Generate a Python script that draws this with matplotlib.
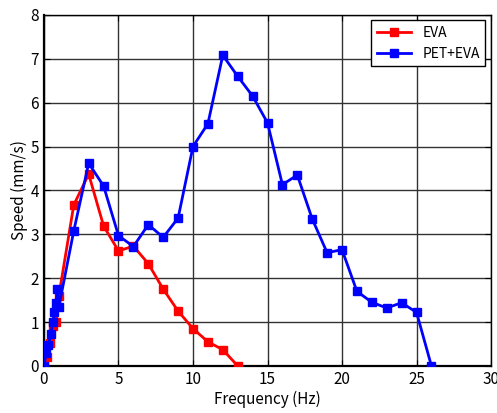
import numpy as np
import matplotlib
matplotlib.use("Agg")
import matplotlib.pyplot as plt

plt.rcParams['font.family'] = ['Noto Sans CJK JP', 'DejaVu Sans']

# EVA
eva_f = [0, 0.2, 0.4, 0.6, 0.8, 1.0, 2, 3, 4, 5, 6, 7, 8, 9, 10, 11, 12, 13]
eva_v = [0, 0.2, 0.52, 0.9, 1.0, 1.6, 3.67, 4.37, 3.19, 2.62, 2.73, 2.33, 1.75, 1.25, 0.85, 0.55, 0.37, 0]

# PET+EVA
pet_f = [0, 0.15, 0.3, 0.45, 0.6, 0.7, 0.8, 0.9, 1.0, 2, 3, 4, 5, 6, 7, 8, 9, 10,
         11, 12, 13, 14, 15, 16, 17, 18, 19, 20, 21, 22, 23, 24, 25, 26]
pet_v = [0, 0.3, 0.48, 0.72, 1.0, 1.23, 1.43, 1.75, 1.35, 3.08, 4.62, 4.1, 2.97, 2.72, 3.22, 2.93, 3.37, 5.0,
         5.52, 7.08, 6.6, 6.15, 5.54, 4.13, 4.35, 3.35, 2.58, 2.65, 1.7, 1.45, 1.32, 1.44, 1.22, 0]

fig = plt.figure(figsize=(4.97, 4.13), dpi=100)
ax = fig.add_axes([0.0885, 0.114, 0.8995, 0.85])

ax.plot(eva_f, eva_v, color='red', marker='s', markersize=6, lw=2, label='EVA', zorder=3)
ax.plot(pet_f, pet_v, color='blue', marker='s', markersize=6, lw=2, label='PET+EVA', zorder=4)

ax.set_xlim(0, 30)
ax.set_ylim(0, 8)
ax.set_xticks(range(0, 31, 5))
ax.set_yticks(range(0, 9))
ax.grid(True, color='#333333', lw=1)
ax.tick_params(direction='in', length=4, labelsize=11, top=True, right=True)
for s in ax.spines.values():
    s.set_linewidth(1.0)
ax.spines['left'].set_linewidth(1.6)
ax.spines['bottom'].set_linewidth(1.6)

ax.set_xlabel('Frequency (Hz)', fontsize=11, labelpad=2)
ax.set_ylabel('Speed (mm/s)', fontsize=11, labelpad=2)

leg = ax.legend(loc='upper right', fontsize=10, fancybox=False, framealpha=1,
                edgecolor='black', borderaxespad=0.4, handlelength=2.5)
leg.get_frame().set_linewidth(1.0)

fig.savefig('out.png', dpi=100)
